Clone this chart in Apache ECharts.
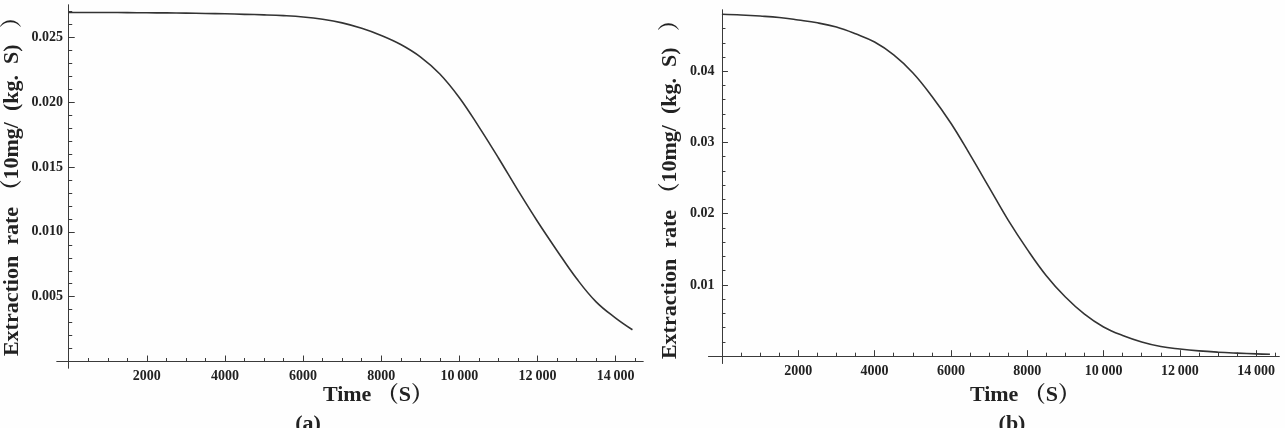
<!DOCTYPE html>
<html>
<head>
<meta charset="utf-8">
<script src="https://cdn.jsdelivr.net/npm/echarts@6/dist/echarts.min.js"></script>
<style>
html,body{margin:0;padding:0;background:#fefefe;}
#chart{width:1285px;height:428px;}
</style>
</head>
<body>
<div id="chart"></div>
<script>
// ---- data ----
const timeA = [0,500,1000,1500,2000,2500,3000,3500,4000,4500,5000,5500,6000,6500,7000,7500,8000,8500,9000,9500,10000,10500,11000,11500,12000,12500,13000,13500,14000,14430];
const rateA = [0.02692,0.02692,0.02692,0.02691,0.02690,0.02689,0.02687,0.02685,0.02682,0.02678,0.02674,0.02668,0.02658,0.02640,0.02612,0.02570,0.02515,0.02445,0.02350,0.02218,0.02035,0.01810,0.01570,0.01320,0.01080,0.00855,0.00640,0.00460,0.00335,0.00245];

const timeB = [0,500,1000,1500,2000,2500,3000,3500,4000,4500,5000,5500,6000,6500,7000,7500,8000,8500,9000,9500,10000,10500,11000,11500,12000,12500,13000,13500,14000,14360];
const rateB = [0.04800,0.04790,0.04775,0.04755,0.04720,0.04680,0.04620,0.04525,0.04410,0.04230,0.03980,0.03650,0.03270,0.02830,0.02370,0.01910,0.01500,0.01130,0.00830,0.00590,0.00410,0.00290,0.00200,0.00135,0.00100,0.00074,0.00056,0.00043,0.00032,0.00027];

const xTickValues = [2000,4000,6000,8000,10000,12000,14000];
const xTickLabels = ['2000','4000','6000','8000','10\u2009000','12\u2009000','14\u2009000'];
const yTickValuesA = [0.005,0.010,0.015,0.020,0.025];
const yTickLabelsA = ['0.005','0.010','0.015','0.020','0.025'];
const yTickValuesB = [0.01,0.02,0.03,0.04];
const yTickLabelsB = ['0.01','0.02','0.03','0.04'];

const yTitle = 'Extraction  rate （10mg/  (kg.  S)   ）';
const xTitle = 'Time （S）';
const panelLabels = ['(a)','(b)'];

// minor tick positions
function steps(from, to, step, skip) {
  const out = [];
  for (let i = 1; from + i * step <= to + 1e-12; i++) {
    const v = +(from + i * step).toFixed(6);
    if (i % skip !== 0) out.push(v);
  }
  return out;
}
const xMinor = steps(0, 14500, 500, 4);
const yMinorA = steps(0, 0.027, 0.001, 5);
const yMinorB = steps(0, 0.048, 0.002, 5);

const serif = '"Liberation Serif", "Noto Serif CJK SC", "Noto Sans CJK SC", serif';
const axisColor = '#3a3a3a';
const textColor = '#222';

function lookup(values, labels) {
  return function (v) {
    for (let i = 0; i < values.length; i++) if (Math.abs(values[i] - v) < 1e-9) return labels[i];
    return '';
  };
}

function xAxes(grid, min, max) {
  return [
    {
      type: 'value', gridIndex: grid, min: min, max: max, position: 'bottom',
      axisLine: { onZero: true, lineStyle: { color: axisColor, width: 1 } },
      axisTick: { inside: true, length: 6, customValues: xTickValues, lineStyle: { color: axisColor } },
      axisLabel: { customValues: xTickValues, formatter: lookup(xTickValues, xTickLabels), margin: 1,
        fontFamily: serif, fontWeight: 'bold', fontSize: 14, color: textColor },
      splitLine: { show: false }
    },
    {
      type: 'value', gridIndex: grid, min: min, max: max, position: 'bottom',
      axisLine: { onZero: true, lineStyle: { color: axisColor, width: 1 } },
      axisTick: { inside: true, length: 3.5, customValues: xMinor, lineStyle: { color: axisColor } },
      axisLabel: { show: false },
      splitLine: { show: false }
    }
  ];
}

function yAxes(grid, min, max, vals, labels, minor) {
  return [
    {
      type: 'value', gridIndex: grid, min: min, max: max, position: 'left',
      axisLine: { show: true, onZero: true, lineStyle: { color: axisColor, width: 1 } },
      axisTick: { show: true, inside: true, length: 6, customValues: vals, lineStyle: { color: axisColor } },
      axisLabel: { customValues: vals, formatter: lookup(vals, labels), margin: -6,
        fontFamily: serif, fontWeight: 'bold', fontSize: 14, color: textColor },
      splitLine: { show: false }
    },
    {
      type: 'value', gridIndex: grid, min: min, max: max, position: 'left',
      axisLine: { show: true, onZero: true, lineStyle: { color: axisColor, width: 1 } },
      axisTick: { show: true, inside: true, length: 3.5, customValues: minor, lineStyle: { color: axisColor } },
      axisLabel: { show: false },
      splitLine: { show: false }
    }
  ];
}

const chart = echarts.init(document.getElementById('chart'));
const option = {
  backgroundColor: '#fefefe',
  animation: false,
  grid: [
    { left: 57, top: 5, width: 586, height: 363 },
    { left: 708.6, top: 10, width: 570.5, height: 353.3 }
  ],
  xAxis: [].concat(xAxes(0, -300, 14700), xAxes(1, -350, 14600)),
  yAxis: [].concat(
    yAxes(0, -0.0005, 0.0275, yTickValuesA, yTickLabelsA, yMinorA),
    yAxes(1, -0.001, 0.0486, yTickValuesB, yTickLabelsB, yMinorB)
  ),
  series: [
    {
      type: 'line', xAxisIndex: 0, yAxisIndex: 0, showSymbol: false, smooth: 0.4,
      data: timeA.map((t, i) => [t, rateA[i]]),
      lineStyle: { color: '#333', width: 1.6 }
    },
    {
      type: 'line', xAxisIndex: 2, yAxisIndex: 2, showSymbol: false, smooth: 0.4,
      data: timeB.map((t, i) => [t, rateB[i]]),
      lineStyle: { color: '#333', width: 1.6 }
    }
  ],
  graphic: [
    { type: 'text', x: 12, y: 181, rotation: Math.PI / 2,
      style: { text: yTitle, align: 'center', verticalAlign: 'middle', font: 'bold 22px ' + serif, fill: textColor } },
    { type: 'text', x: 670, y: 184, rotation: Math.PI / 2,
      style: { text: yTitle, align: 'center', verticalAlign: 'middle', font: 'bold 22px ' + serif, fill: textColor } },
    { type: 'text', x: 378, y: 395,
      style: { text: xTitle, align: 'center', verticalAlign: 'middle', font: 'bold 22px ' + serif, fill: textColor } },
    { type: 'text', x: 1025, y: 395,
      style: { text: xTitle, align: 'center', verticalAlign: 'middle', font: 'bold 22px ' + serif, fill: textColor } },
    { type: 'text', x: 308, y: 424,
      style: { text: panelLabels[0], align: 'center', verticalAlign: 'middle', font: 'bold 22px ' + serif, fill: textColor } },
    { type: 'text', x: 1012, y: 424,
      style: { text: panelLabels[1], align: 'center', verticalAlign: 'middle', font: 'bold 22px ' + serif, fill: textColor } }
  ]
};
chart.setOption(option);
</script>
</body>
</html>
